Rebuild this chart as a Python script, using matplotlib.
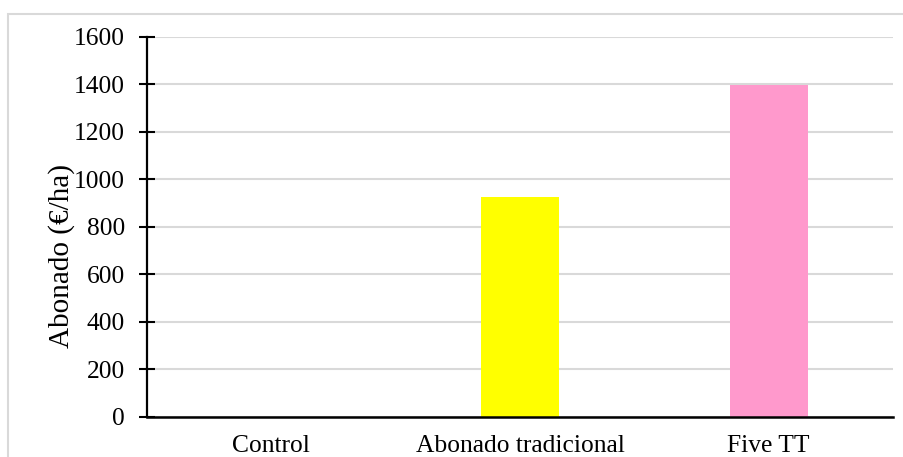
import matplotlib
matplotlib.use("Agg")
import matplotlib.pyplot as plt
from matplotlib.patches import Rectangle

categories = ["Control", "Abonado tradicional", "Five TT"]
values = [0, 925, 1397]
colors = ["#4472C4", "#FFFF00", "#FF99CC"]
yticks = [0, 200, 400, 600, 800, 1000, 1200, 1400, 1600]
ylabel = "Abonado (€/ha)"

W, H = 904, 457
fig = plt.figure(figsize=(W / 100, H / 100), dpi=100)
plt.rcParams["font.family"] = ["Liberation Serif", "DejaVu Serif"]

# chart-area frame
fig.patches.append(Rectangle((8 / W, -0.05), 2, 1 - 14 / H + 0.05,
                             transform=fig.transFigure, fill=False,
                             edgecolor="#D9D9D9", linewidth=1.5))

x0, x1 = 147, 893
ytop, ybot = 36.7, 416.7
ax = fig.add_axes([x0 / W, 1 - ybot / H, (x1 - x0) / W, (ybot - ytop) / H])

ax.bar(range(len(categories)), values, width=0.314, color=colors, zorder=3)
ax.set_xlim(-0.5, len(categories) - 0.5)
ax.set_ylim(0, 1600)
ax.set_yticks(yticks)
ax.set_xticks(range(len(categories)))
ax.set_xticklabels(categories)

ax.grid(axis="y", color="#D9D9D9", linewidth=1.5, zorder=0)
for s in ["top", "right"]:
    ax.spines[s].set_visible(False)
ax.spines["left"].set_linewidth(1.6)
ax.spines["bottom"].set_linewidth(1.8)
ax.spines["left"].set_zorder(4)
ax.spines["bottom"].set_zorder(4)

ax.tick_params(axis="y", direction="inout", length=11, width=1.5,
               labelsize=18.4, pad=10.5)
ax.tick_params(axis="x", length=0, labelsize=18.4, pad=13.5)

ax.set_ylabel(ylabel, fontsize=21)
ax.yaxis.set_label_coords(-0.097, 0.424)

fig.savefig("out.png", dpi=100)
